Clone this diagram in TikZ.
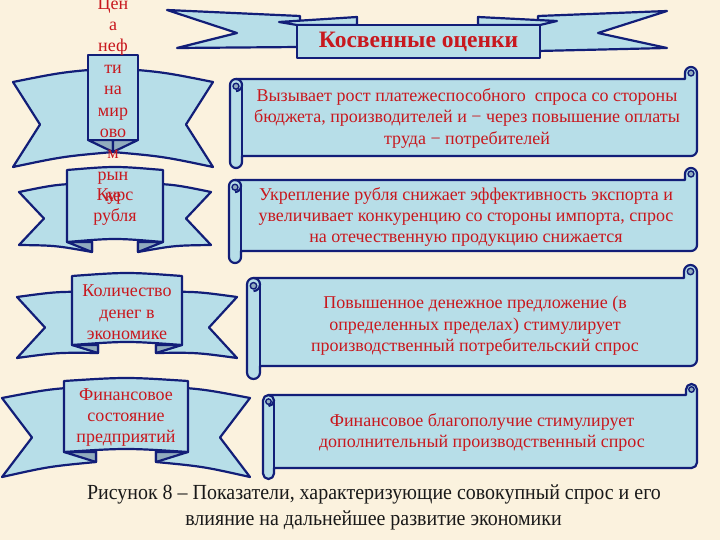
\documentclass[tikz,border=0pt]{standalone}
\usepackage{fontspec}
\setmainfont{Liberation Serif}
\definecolor{bg}{RGB}{251,242,222}
\definecolor{rfill}{RGB}{183,222,232}
\definecolor{rline}{RGB}{18,30,120}
\definecolor{rfold}{RGB}{145,172,190}
\definecolor{rtext}{RGB}{200,24,30}
\definecolor{captext}{RGB}{25,25,25}
\tikzset{
  rib/.style={fill=rfill, draw=rline, line width=2.2pt, line join=round},
  foldfill/.style={rib, fill=rfold},
  ltext/.style={align=center, text=rtext, inner sep=0pt, font=\fontsize{18}{21.4}\selectfont},
  stext/.style={align=center, text=rtext, inner sep=0pt, font=\fontsize{18}{21.5}\selectfont},
  captxt/.style={align=center, text=captext, inner sep=0pt, font=\fontsize{21.5}{26}\selectfont},
}
% ribbon: cx, bw, bt, bb, tw, tt, tb, fb, fw
\newcommand\ribbon[9]{%
 \pgfmathsetmacro\xa{#1-#5}%
 \pgfmathsetmacro\xb{#1-#2}%
 \pgfmathsetmacro\xc{#1-#2+#9}%
 \pgfmathsetmacro\xd{#1+#2-#9}%
 \pgfmathsetmacro\xe{#1+#2}%
 \pgfmathsetmacro\xf{#1+#5}%
 \pgfmathsetmacro\xna{#1-#5+\rnd}%
 \pgfmathsetmacro\xnf{#1+#5-\rnd}%
 \pgfmathsetmacro\ym{(#6+#7)/2}%
 \pgfmathsetmacro\yi{#6-\rarch}%
 \pgfmathsetmacro\cta{(#1-#5+#1-#2+#9)/2}%
 \pgfmathsetmacro\ctf{(#1+#5+#1+#2-#9)/2}%
 \pgfmathsetmacro\cyt{(#6+\yi)/2-\rbend}%
 \pgfmathsetmacro\cyb{(#7+#8)/2-\rbend}%
 \filldraw[rib] (\xa,#6) .. controls (\cta,\cyt) .. (\xc,\yi) -- (\xc,#8) .. controls (\cta,\cyb) .. (\xa,#7) -- (\xna,\ym) -- cycle;
 \filldraw[rib] (\xf,#6) .. controls (\ctf,\cyt) .. (\xd,\yi) -- (\xd,#8) .. controls (\ctf,\cyb) .. (\xf,#7) -- (\xnf,\ym) -- cycle;
 \filldraw[foldfill] (\xb,#4) -- (\xc,#4) -- (\xc,#8) -- cycle;
 \filldraw[foldfill] (\xe,#4) -- (\xd,#4) -- (\xd,#8) -- cycle;
 \pgfmathsetmacro\bta{#3-2*\rbox}%
 \pgfmathsetmacro\bba{#4-2*\rbox}%
 \filldraw[rib] (\xb,#3) .. controls (#1,\bta) .. (\xe,#3) -- (\xe,#4) .. controls (#1,\bba) .. (\xb,#4) -- cycle;
}
% scroll: l, t, r, b, c
\newcommand\scrollshape[5]{%
 \pgfmathsetmacro\sh{#5/2}%
 \pgfmathsetmacro\sq{#5/4}%
 \filldraw[rib] (#1,#2+1.5*#5) arc[start angle=180, end angle=270, radius=\sh]
   -- (#3-#5,#2+#5) -- (#3-#5,#2+\sh) arc[start angle=180, end angle=360, radius=\sh]
   -- (#3,#4-1.5*#5) arc[start angle=0, end angle=90, radius=\sh]
   -- (#1+#5,#4-#5) -- (#1+#5,#4-\sh) arc[start angle=0, end angle=180, radius=\sh]
   -- cycle;
 \draw[rib, fill=none] (#1+\sh,#2+#5) arc[start angle=270, end angle=450, radius=\sh] -- (#1+\sh,#2+2*#5);
 \draw[rib, fill=none] (#1+#5,#2+1.5*#5) -- (#1+#5,#4-#5);
 \filldraw[foldfill, line width=1.4pt] (#1+\sh,#2+1.6*#5) circle[radius=\sq];
 \filldraw[foldfill, line width=1.4pt] (#3-\sh,#2+\sh) circle[radius=\sq];
 \draw[rib, fill=none] (#3-#5,#2+\sh) -- (#3-#5,#2+#5);
}
\begin{document}
\begin{tikzpicture}[x=1pt, y=-1pt]
\useasboundingbox (0,0) rectangle (720,540);
\clip (0,0) rectangle (720,540);
\fill[bg] (0,0) rectangle (720,540);

% title banner
\filldraw[rib] (167,10) -- (300,16) -- (300,47) -- (177,48) -- (237,33) -- cycle;
\filldraw[rib] (538,16) -- (667,11) -- (598,33) -- (667,48) -- (538,51) -- cycle;
\filldraw[rib] (279,22) -- (357,17) -- (357,25) -- (297,25) -- cycle;
\filldraw[rib] (478,17) -- (557,21) -- (540,25) -- (478,25) -- cycle;
\filldraw[rib] (297,25) rectangle (540,58);
\node[text=rtext, inner sep=0pt, font=\bfseries\fontsize{23.5}{26}\selectfont] (title) at (418.5,42) {Косвенные оценки};

% scrolls
\scrollshape{230}{67}{697}{168}{12}
\scrollshape{229}{168}{697}{263}{12}
\scrollshape{247}{265}{697}{379}{13}
\scrollshape{263}{384}{697}{479}{11}

% ribbons
\def\rnd{27}\def\rarch{14}\def\rbend{3}\def\rbox{0}
\ribbon{113}{25}{55}{140}{100}{82}{167}{152}{25}
\def\rnd{25}\def\rarch{9}\def\rbend{3}\def\rbox{2}
\ribbon{115}{48}{170}{242}{96}{192}{245}{252}{25}
\def\rnd{28}\def\rarch{5}\def\rbend{3}\def\rbox{2}
\ribbon{127}{55}{276}{345}{110}{297}{358}{353}{26}
\def\rnd{30}\def\rarch{12}\def\rbend{3}\def\rbox{2}
\ribbon{126}{62}{381}{452}{124}{398}{477}{462}{32}

% ribbon texts
\node[ltext] (r1) at (113,99.5) {Цен\\а\\неф\\ти\\на\\мир\\ово\\м\\рын\\ке};
\node[ltext] (r2) at (115,207) {Курс\\рубля};
\node[ltext] (r3) at (127,312.5) {Количество\\денег в\\экономике};
\node[ltext] (r4) at (126,417.5) {Финансовое\\состояние\\предприятий};

% scroll texts
\node[stext] (s1) at (467,118.5) {Вызывает рост платежеспособного\ \ спроса со стороны\\бюджета, производителей и − через повышение оплаты\\труда − потребителей};
\node[stext] (s2) at (466,217) {Укрепление рубля снижает эффективность экспорта и\\увеличивает конкуренцию со стороны импорта, спрос\\на отечественную продукцию снижается};
\node[stext] (s3) at (475,326) {Повышенное денежное предложение (в\\определенных пределах) стимулирует\\производственный потребительский спрос};
\node[stext] (s4) at (482,432.5) {Финансовое благополучие стимулирует\\дополнительный производственный спрос};

% caption
\node[captxt] (cap1) at (374,494) {\scalebox{0.928}[1]{Рисунок 8 – Показатели, характеризующие совокупный спрос и его}};
\node[captxt] (cap2) at (373.5,520) {\scalebox{0.928}[1]{влияние на дальнейшее развитие экономики}};
\end{tikzpicture}
\end{document}
